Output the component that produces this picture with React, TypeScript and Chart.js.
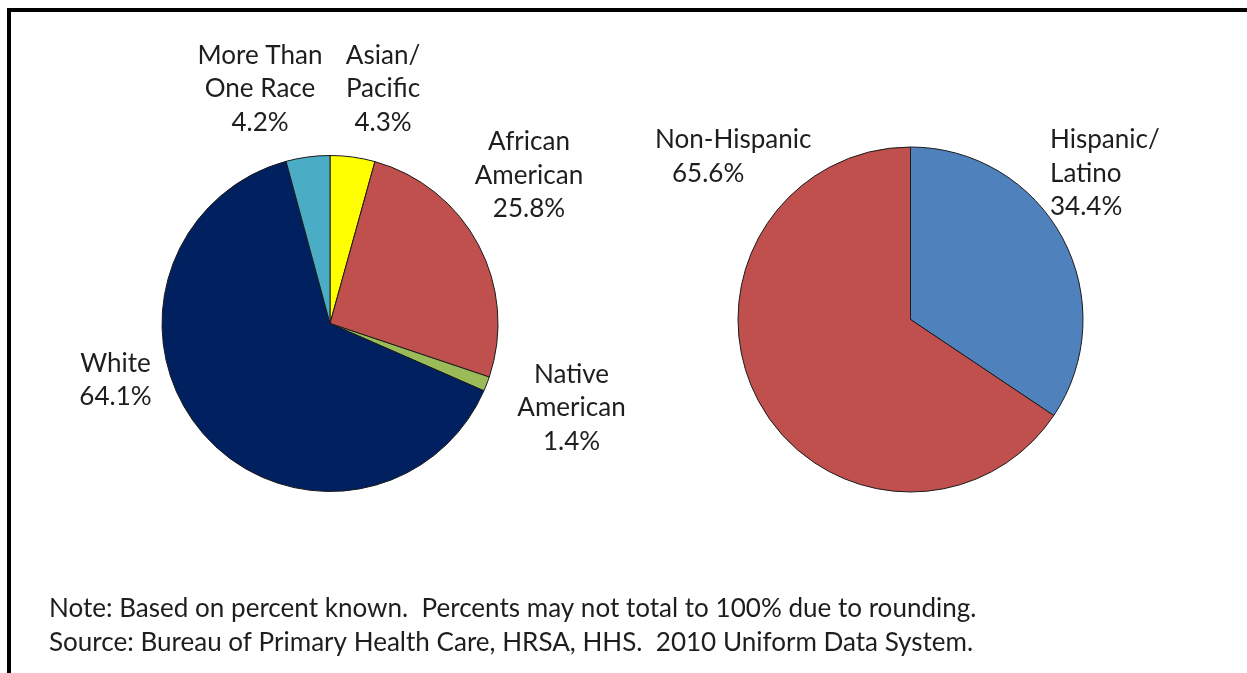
import React, { useEffect, useRef } from "react";
import { Chart, registerables } from "chart.js";

Chart.register(...registerables);

// ---- Data ----
const raceLabels: string[][] = [
  ["Asian/", "Pacific"],
  ["African", "American"],
  ["Native", "American"],
  ["White"],
  ["More Than", "One Race"],
];
const raceValues = [4.3, 25.8, 1.4, 64.1, 4.2];
const raceColors = ["#FFFF00", "#C0504D", "#9BBB59", "#002060", "#4BACC6"];

const ethLabels: string[][] = [["Hispanic/", "Latino"], ["Non-Hispanic"]];
const ethValues = [34.4, 65.6];
const ethColors = ["#4F81BD", "#C0504D"];

const noteLines = [
  "Note: Based on percent known.  Percents may not total to 100% due to rounding.",
  "Source: Bureau of Primary Health Care, HRSA, HHS.  2010 Uniform Data System.",
];

// ---- Label layout (relative to pie centre, in radius units) ----
const raceLayout = [
  { dx: 0.3155, dy: -1.5476, align: "center", indent: 0 },
  { dx: 1.1845, dy: -1.0327, align: "center", indent: 0 },
  { dx: 1.4375, dy: 0.3524, align: "center", indent: 0 },
  { dx: -1.2768, dy: 0.2869, align: "center", indent: 0 },
  { dx: -0.4167, dy: -1.5476, align: "center", indent: 0 },
];
const ethLayout = [
  { dx: 0.8087, dy: -0.9942, align: "left", indent: 0 },
  { dx: -1.4812, dy: -0.9925, align: "left", indent: 17 },
];

const FONT_FAMILY = "Lato, 'Noto Sans', sans-serif";
const TEXT_COLOR = "#1e1e1e";
const LINE_HEIGHT = 33.5;
const NOTE_WIDTH = 928;

function fitFontSize(): number {
  const c = document.createElement("canvas");
  const ctx = c.getContext("2d")!;
  ctx.font = `22px ${FONT_FAMILY}`;
  const w = ctx.measureText(noteLines[0]).width;
  return (22 * NOTE_WIDTH) / w;
}

const outsideLabels = {
  id: "outsideLabels",
  afterDraw(chart: any) {
    const o = chart.options.plugins.outsideLabels;
    if (!o) return;
    const ctx = chart.ctx;
    const meta = chart.getDatasetMeta(0);
    const ds = chart.data.datasets[0];
    ctx.save();
    ctx.font = `${o.fontSize}px ${FONT_FAMILY}`;
    ctx.fillStyle = TEXT_COLOR;
    ctx.textBaseline = "alphabetic";
    meta.data.forEach((arc: any, i: number) => {
      const { x, y, outerRadius } = arc.getProps(["x", "y", "outerRadius"], true);
      const lay = o.layout[i];
      const lines = [...chart.data.labels[i], ds.data[i].toFixed(1) + "%"];
      ctx.textAlign = lay.align;
      lines.forEach((line: string, j: number) => {
        const indent = j > 0 ? lay.indent : 0;
        ctx.fillText(
          line,
          x + lay.dx * outerRadius + indent,
          y + lay.dy * outerRadius + j * LINE_HEIGHT
        );
      });
    });
    if (o.notes) {
      ctx.textAlign = "left";
      o.notes.forEach((line: string, j: number) => {
        ctx.fillText(line, 49, 616.5 + j * 34);
      });
    }
    ctx.restore();
  },
};

function makeChart(
  canvas: HTMLCanvasElement,
  labels: string[][],
  values: number[],
  colors: string[],
  padding: any,
  layout: any,
  fontSize: number,
  notes?: string[]
) {
  return new Chart(canvas, {
    type: "pie",
    data: {
      labels: labels as any,
      datasets: [
        {
          data: values,
          backgroundColor: colors,
          borderColor: "#1a1a1a",
          borderWidth: 1,
        },
      ],
    },
    options: {
      animation: false,
      responsive: false,
      events: [],
      layout: { padding },
      plugins: {
        legend: { display: false },
        tooltip: { enabled: false },
        outsideLabels: { layout, fontSize, notes },
      } as any,
    },
    plugins: [outsideLabels],
  });
}

export default function App() {
  const ref1 = useRef<HTMLCanvasElement>(null);
  const ref2 = useRef<HTMLCanvasElement>(null);

  useEffect(() => {
    const fs = fitFontSize();
    const c1 = makeChart(
      ref1.current!,
      raceLabels,
      raceValues,
      raceColors,
      { left: 161.5, right: 748.5, top: 155, bottom: 181 },
      raceLayout,
      fs,
      noteLines
    );
    const c2 = makeChart(
      ref2.current!,
      ethLabels,
      ethValues,
      ethColors,
      { left: 737.5, right: 163.5, top: 146.5, bottom: 180.5 },
      ethLayout,
      fs
    );
    return () => {
      c1.destroy();
      c2.destroy();
    };
  }, []);

  const canvasStyle: React.CSSProperties = {
    position: "absolute",
    left: 0,
    top: 0,
    width: 1247,
    height: 673,
  };

  return (
    <div
      style={{
        position: "fixed",
        left: 0,
        top: 0,
        width: 1247,
        height: 673,
        background: "#ffffff",
        overflow: "hidden",
      }}
    >
      <div
        style={{
          position: "absolute",
          left: 7,
          top: 8,
          width: 1260,
          height: 700,
          borderLeft: "4px solid #000",
          borderTop: "4px solid #000",
          boxSizing: "border-box",
        }}
      />
      <canvas ref={ref1} width={1247} height={673} style={canvasStyle} />
      <canvas ref={ref2} width={1247} height={673} style={canvasStyle} />
    </div>
  );
}
